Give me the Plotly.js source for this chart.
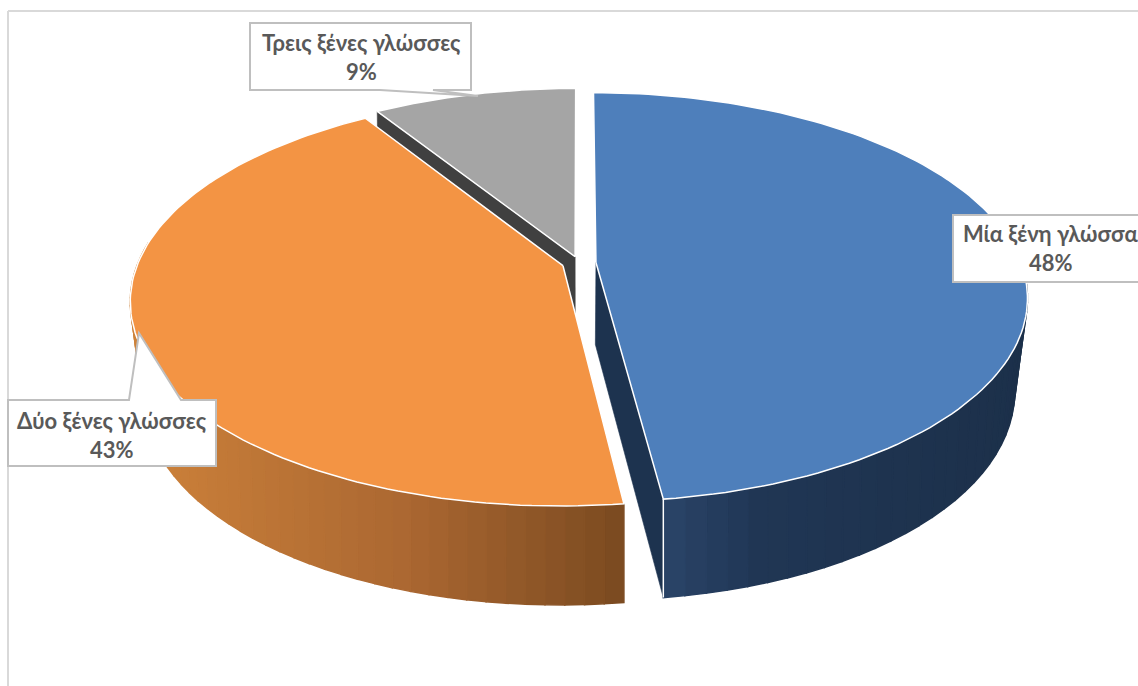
<!DOCTYPE html>
<html><head><meta charset="utf-8">
<script src="https://cdn.plot.ly/plotly-3.0.1.min.js"></script>
<style>html,body{margin:0;padding:0;background:#fff;overflow:hidden}#c{width:1138px;height:686px}</style>
</head><body><div id="c"></div>
<script>
const categories = ["Μία ξένη γλώσσα", "Δύο ξένες γλώσσες", "Τρεις ξένες γλώσσες"];
const values = [48, 43, 9];
const topColors = ["#4e7fbb", "#f39444", "#a5a5a5"];
const cutColors = ["#1d334f", null, "#404040"];
const pull = [0.04, 0.04, 0.033];
const wallStops = [
  [[664, [42, 68, 104]], [760, [32, 54, 84]], [1030, [28, 48, 74]]],
  [[130, [205, 130, 58]], [400, [172, 104, 50]], [625, [122, 74, 32]]],
  null
];
const X0 = 579, Y0 = 263, R = 425, H = 198.7, K = 0.169, D = 82, BOTTOM_SHRINK = 0.965;

function project(i, u, v, bottom) {
  const w = 1 + K * v;
  let x = X0 + R * u / w, y = Y0 - H * v / w;
  if (bottom) { x = X0 + (x - X0) * (BOTTOM_SHRINK + (1 - BOTTOM_SHRINK) * Math.abs(v)); y += D / w; }
  return [x, y];
}
const total = values.reduce((a, b) => a + b, 0);
let acc = 0;
const slices = values.map((val, i) => {
  const a0 = acc / total * 2 * Math.PI; acc += val;
  const a1 = acc / total * 2 * Math.PI;
  const mid = (a0 + a1) / 2;
  return { i, a0, a1, ou: Math.sin(mid) * pull[i], ov: Math.cos(mid) * pull[i] };
});
const rim = (s, a, b) => project(s.i, s.ou + Math.sin(a), s.ov + Math.cos(a), b);
const apex = (s, b) => project(s.i, s.ou, s.ov, b);

function poly(pts, fill, line, lw) {
  const xs = pts.map(p => p[0]), ys = pts.map(p => p[1]);
  return { type: "scatter", mode: "lines", x: xs.concat(xs[0]), y: ys.concat(ys[0]), fill: "toself",
    fillcolor: fill, line: { color: line || fill, width: lw === undefined ? 1.5 : lw, shape: "linear" },
    hoverinfo: "skip", showlegend: false };
}
function path(pts, color, lw) {
  return { type: "scatter", mode: "lines", x: pts.map(p => p[0]), y: pts.map(p => p[1]),
    line: { color, width: lw }, hoverinfo: "skip", showlegend: false };
}
function stopColor(st, x) {
  if (x <= st[0][0]) return st[0][1];
  for (let j = 1; j < st.length; j++) if (x <= st[j][0]) {
    const t = (x - st[j-1][0]) / (st[j][0] - st[j-1][0]);
    return st[j-1][1].map((c, n) => c + (st[j][1][n] - c) * t);
  }
  return st[st.length - 1][1];
}
const rgb = c => "rgb(" + c.map(Math.round).join(",") + ")";
function arc(s, b, n) {
  const out = [];
  for (let j = 0; j <= n; j++) out.push(rim(s, s.a0 + (s.a1 - s.a0) * j / n, b));
  return out;
}
function wall(s) {
  const tr = [], n = 70;
  for (let j = 0; j < n; j++) {
    const a = s.a0 + (s.a1 - s.a0) * j / n, b = s.a0 + (s.a1 - s.a0) * (j + 1) / n;
    if (Math.cos((a + b) / 2) > 0.1) continue;
    const p = rim(s, a, false), q = rim(s, b, false);
    tr.push(poly([p, q, rim(s, b, true), rim(s, a, true)], rgb(stopColor(wallStops[s.i], (p[0] + q[0]) / 2))));
  }
  return tr;
}
function topFace(s) {
  return poly([apex(s, false)].concat(arc(s, false, 120)), topColors[s.i], "#ffffff", 1.5);
}
const [blue, orange, gray] = slices;
const traces = [
  ...wall(blue),
  poly([apex(blue, false), rim(blue, blue.a1, false), rim(blue, blue.a1, true), apex(blue, true)], cutColors[0], cutColors[0], 0.6),
  path([rim(blue, blue.a1, false), rim(blue, blue.a1, true)], "#ffffff", 1.5),
  topFace(blue),
  poly([apex(gray, false), rim(gray, gray.a0, false), rim(gray, gray.a0, true), apex(gray, true)], cutColors[2], cutColors[2], 0.6),
  ...wall(orange),
  topFace(orange),
  topFace(gray)
];

const labelFont = { family: "Lato, 'Noto Sans', sans-serif", size: 22, color: "#595959", weight: 700 };
const pct = values.map(v => Math.round(v / total * 100) + "%");
const labelCentres = [[1051, 234, 263], [112, 421, 450], [361, 43, 72]];
const annotations = [];
categories.forEach((c, i) => {
  const [x, y1, y2] = labelCentres[i];
  annotations.push({ x, y: y1 - 1, xref: "x", yref: "y", text: "<b>" + c + "</b>", showarrow: false, font: labelFont, xanchor: "center", yanchor: "middle" });
  annotations.push({ x, y: y2 - 1, xref: "x", yref: "y", text: "<b>" + pct[i] + "</b>", showarrow: false, font: labelFont, xanchor: "center", yanchor: "middle" });
});
const callout = d => ({ type: "path", xref: "x", yref: "y", path: d, fillcolor: "#ffffff", line: { color: "#bfbfbf", width: 2 }, layer: "above" });
const frame = (x0, y0, x1, y1) => ({ type: "line", xref: "x", yref: "y", x0, y0, x1, y1, line: { color: "#d9d9d9", width: 2 }, layer: "below" });

const layout = {
  width: 1138, height: 686, margin: { l: 0, r: 0, t: 0, b: 0 }, paper_bgcolor: "#fff", plot_bgcolor: "#fff",
  showlegend: false, hovermode: false,
  xaxis: { range: [0, 1138], visible: false, fixedrange: true },
  yaxis: { range: [686, 0], visible: false, fixedrange: true },
  annotations,
  shapes: [
    frame(8, 11, 1138, 11), frame(8, 11, 8, 686),
    callout("M250,23 L471,23 L471,90 L433,90 L478,96 L380,90 L250,90 Z"),
    callout("M8,400 L129,400 L139,333 L181,400 L216,400 L216,466 L8,466 Z"),
    callout("M953,215 L1140,215 L1140,282 L953,282 Z")
  ]
};
Plotly.newPlot("c", traces, layout, { displayModeBar: false, staticPlot: true });
</script></body></html>
